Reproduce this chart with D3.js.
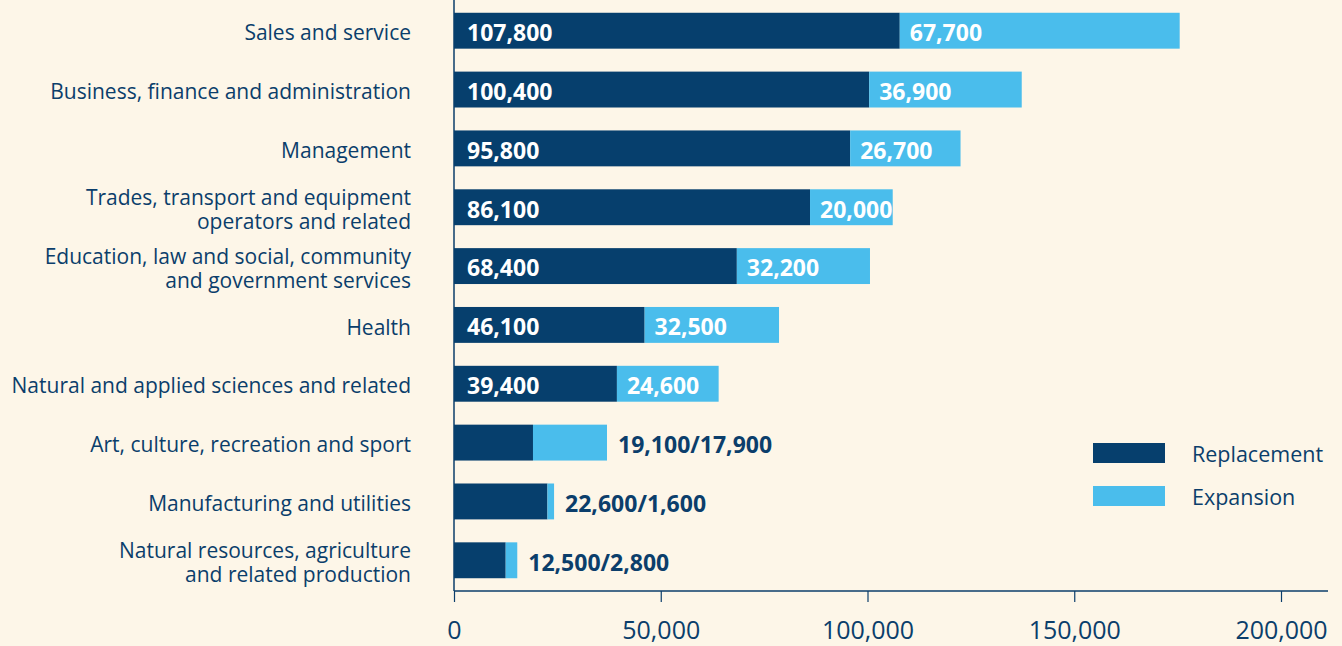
<!DOCTYPE html>
<html>
<head>
<meta charset="utf-8">
<script src="https://cdn.jsdelivr.net/npm/d3@7"></script>
<style>
  body { margin: 0; background: #fdf6e8; }
  svg { display: block; }
  text { font-family: "Open Sans", Lato, sans-serif; }
</style>
</head>
<body>
<svg id="chart" width="1342" height="646"></svg>
<script>
// occupational groups, top to bottom
var categories = [
  "Sales and service",
  "Business, finance and administration",
  "Management",
  "Trades, transport and equipment|operators and related",
  "Education, law and social, community|and government services",
  "Health",
  "Natural and applied sciences and related",
  "Art, culture, recreation and sport",
  "Manufacturing and utilities",
  "Natural resources, agriculture|and related production"
];
var replacement = [107800, 100400, 95800, 86100, 68400, 46100, 39400, 19100, 22600, 12500];
var expansion   = [67700, 36900, 26700, 20000, 32200, 32500, 24600, 17900, 1600, 2800];
var xTicks = [0, 50000, 100000, 150000, 200000];
var seriesNames = ["Replacement", "Expansion"];

var dark = "#063f6d", light = "#4abdec", ink = "#0b3e6b";

var svg = d3.select("#chart");
var fmt = d3.format(",");

var x = d3.scaleLinear().domain([0, 200000]).range([454, 1281]);
var y = d3.scaleBand().domain(categories).range([1, 590]).paddingInner(0.39).paddingOuter(0.2);

var data = categories.map(function(c, i) {
  return {cat: c, r: replacement[i], e: expansion[i]};
});

/* axis */
var axis = svg.append("g")
    .attr("transform", "translate(0,591)")
    .call(d3.axisBottom(x).tickValues(xTicks).tickFormat(fmt).tickSize(11).tickPadding(19));
axis.select(".domain").attr("d", "M454,0H1328").attr("stroke", ink).attr("stroke-width", 1.5);
axis.selectAll(".tick line").attr("stroke", ink).attr("stroke-width", 1.2);
axis.selectAll(".tick text").attr("fill", ink).style("font-size", "25px").attr("font-family", null);

svg.append("line")
    .attr("x1", 454).attr("x2", 454).attr("y1", 0).attr("y2", 591)
    .attr("stroke", ink).attr("stroke-width", 1.5);

/* bars */
var rows = svg.selectAll(".row").data(data).enter().append("g").attr("class", "row");

rows.append("rect")
    .attr("x", x(0))
    .attr("y", function(d) { return y(d.cat); })
    .attr("width", function(d) { return x(d.r) - x(0); })
    .attr("height", y.bandwidth())
    .attr("fill", dark);

rows.append("rect")
    .attr("x", function(d) { return x(d.r); })
    .attr("y", function(d) { return y(d.cat); })
    .attr("width", function(d) { return x(d.r + d.e) - x(d.r); })
    .attr("height", y.bandwidth())
    .attr("fill", light);

/* value labels */
function big(d) { return d.r > 30000; }

rows.filter(big).append("text")
    .attr("x", x(0) + 13)
    .attr("y", function(d) { return y(d.cat) + y.bandwidth() / 2; })
    .attr("dy", "0.45em")
    .attr("fill", "#fff")
    .style("font-size", "23px").style("font-weight", "bold")
    .text(function(d) { return fmt(d.r); });

rows.filter(big).append("text")
    .attr("x", function(d) { return x(d.r) + 10; })
    .attr("y", function(d) { return y(d.cat) + y.bandwidth() / 2; })
    .attr("dy", "0.45em")
    .attr("fill", "#fff")
    .style("font-size", "23px").style("font-weight", "bold")
    .text(function(d) { return fmt(d.e); });

rows.filter(function(d) { return !big(d); }).append("text")
    .attr("x", function(d) { return x(d.r + d.e) + 11; })
    .attr("y", function(d) { return y(d.cat) + y.bandwidth() / 2; })
    .attr("dy", "0.45em")
    .attr("fill", ink)
    .style("font-size", "23px").style("font-weight", "bold")
    .text(function(d) { return fmt(d.r) + "/" + fmt(d.e); });

/* category labels */
rows.each(function(d) {
  var lines = d.cat.split("|");
  var t = d3.select(this).append("text")
      .attr("text-anchor", "end")
      .attr("fill", ink)
      .style("font-size", "21px");
  var mid = y(d.cat) + y.bandwidth() / 2;
  lines.forEach(function(l, i) {
    t.append("tspan")
        .attr("x", 411)
        .attr("y", mid + (i - (lines.length - 1) / 2) * 24)
        .attr("dy", "0.46em")
        .text(l);
  });
});

/* legend */
var leg = svg.append("g").selectAll("g").data(seriesNames).enter().append("g")
    .attr("transform", function(d, i) { return "translate(1093," + (443 + i * 43) + ")"; });
leg.append("rect").attr("width", 72).attr("height", 20)
    .attr("fill", function(d, i) { return i ? light : dark; });
leg.append("text").attr("x", 99).attr("y", 10).attr("dy", "0.4em")
    .attr("fill", ink).style("font-size", "21.5px")
    .text(function(d) { return d; });
</script>
</body>
</html>
